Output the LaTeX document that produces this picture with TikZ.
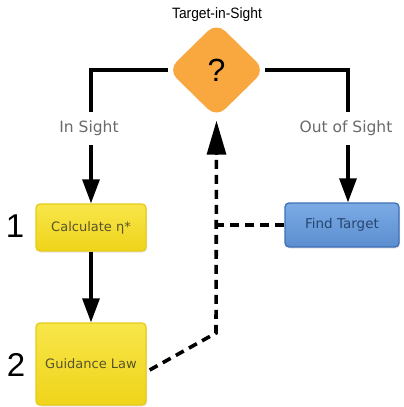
\documentclass[tikz,border=0pt]{standalone}
\usepackage{fontspec}
\setmainfont{DejaVu Sans}
\newfontfamily\arialfont{Liberation Sans}
\usetikzlibrary{shapes.geometric,arrows.meta,calc,shadows}

\definecolor{qorange}{HTML}{F9A840}
\definecolor{ytop}{HTML}{F8E64A}
\definecolor{ybot}{HTML}{EFD41A}
\definecolor{yedge}{HTML}{E6CC1A}
\definecolor{ytext}{HTML}{57532A}
\definecolor{btop}{HTML}{7CABE6}
\definecolor{bbot}{HTML}{5B8ECF}
\definecolor{bedge}{HTML}{3E70B6}
\definecolor{btext}{HTML}{27466F}
\definecolor{lblgray}{HTML}{6A6A6A}

\tikzset{
  flow/.style={line width=3.2pt, draw=black},
  arr/.style={flow, -{Triangle[width=17pt,length=24pt]}},
  dashline/.style={line width=3.6pt, draw=black, dash pattern=on 9pt off 6pt},
  ybox/.style={rectangle, rounded corners=4pt, draw=yedge, line width=1.3pt,
    top color=ytop, bottom color=ybot, text=ytext,
    drop shadow={opacity=0.2, shadow xshift=1pt, shadow yshift=-1.5pt},
    font=\fontsize{13}{15}\selectfont},
  bbox/.style={rectangle, rounded corners=4pt, draw=bedge, line width=1.3pt,
    top color=btop, bottom color=bbot, text=btext,
    drop shadow={opacity=0.2, shadow xshift=1pt, shadow yshift=-1.5pt},
    font=\fontsize{13.5}{16}\selectfont},
  lbl/.style={fill=white, text=lblgray, inner xsep=3pt, inner ysep=9pt,
    font=\fontsize{15.5}{18}\selectfont},
  bignum/.style={font=\arialfont\fontsize{33}{36}\selectfont},
}

\begin{document}
\begin{tikzpicture}[x=1pt,y=-1pt]
\useasboundingbox[fill=white] (0,0) rectangle (404,407);

% decision diamond and its caption
\node[diamond, fill=qorange, rounded corners=12pt, minimum width=97pt,
  minimum height=95pt, inner sep=0pt, font=\arialfont\fontsize{32}{34}\selectfont]
  (q) at (216.5,70) {?};
\node[font=\arialfont\fontsize{15}{17}\selectfont, xscale=0.92] (title) at (217,15) {Target-in-Sight};

% process boxes
\node[ybox, minimum width=110pt, minimum height=47pt] (calc) at (91,227.5) {Calculate η*};
\node[ybox, minimum width=110pt, minimum height=82pt] (guid) at (91,364) {Guidance Law};
\node[bbox, minimum width=114pt, minimum height=44pt] (find) at (342,225) {Find Target};

% step numbers
\node[bignum] (n1) at (15,226) {1};
\node[bignum] (n2) at (16,365) {2};

% branches out of the decision
\draw[arr] (q.west) -| (calc.north);
\draw[arr] (q.east) -| ([xshift=6pt]find.north);
\node[lbl] (insight) at (89,128) {In Sight};
\node[lbl] (outsight) at (346,128) {Out of Sight};

% sequence
\draw[arr] (calc.south) -- (guid.north);

% feedback loop back to the decision
\coordinate (bend) at (216,333);
\draw[dashline] ($(guid.east)+(3,6)$) -- (bend) -- ([yshift=-22pt]q.south);
\draw[flow, -{Triangle[width=19pt,length=34pt]}] ([yshift=-36pt]q.south) -- ([yshift=-3pt]q.south);
\draw[dashline] (find.west) -- (find.west -| bend);
\end{tikzpicture}
\end{document}
